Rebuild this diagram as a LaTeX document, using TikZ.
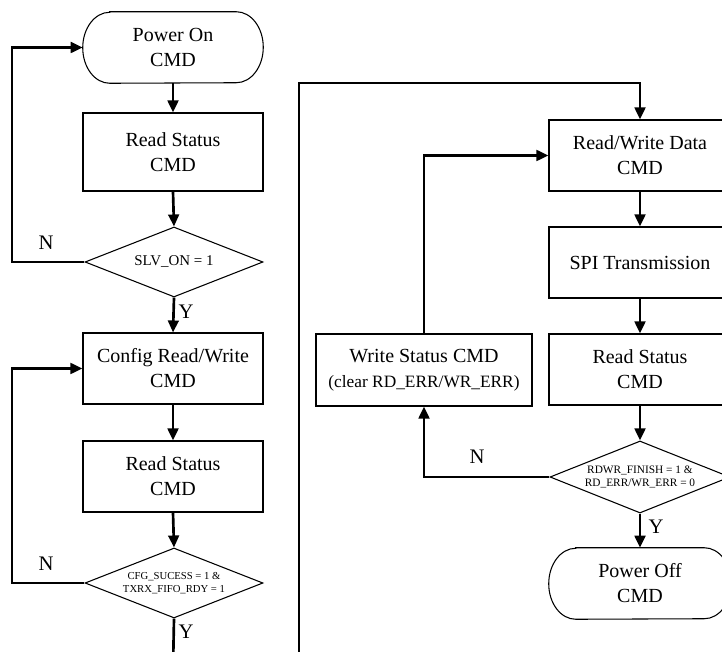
\documentclass[tikz,border=0pt]{standalone}
\usepackage{fontspec}
\setmainfont{Liberation Serif}
\usetikzlibrary{arrows.meta,shapes.geometric}
\begin{document}
\begin{tikzpicture}[x=0.75pt,y=-0.75pt,
  box/.style={draw,line width=0.8pt,minimum width=135pt,minimum height=53.25pt,inner sep=0pt,align=center,font=\fontsize{15}{18.75}\selectfont},
  term/.style={minimum width=135pt,minimum height=53.25pt,inner sep=0pt,align=center,font=\fontsize{15}{18.75}\selectfont},
  dec/.style={diamond,draw,line width=0.8pt,shape aspect=2.6,minimum width=133.5pt,minimum height=52.5pt,inner sep=0pt,align=center,font=\fontsize{8}{9.5}\selectfont},
  conn/.style={line width=2pt},
  flow/.style={conn,-{Triangle[length=9pt,width=8pt]}},
  lab/.style={font=\fontsize{15.5}{15.5}\selectfont,inner sep=0pt},
  termline/.style={line width=0.8pt}
]
\clip (0,0) rectangle (722,652);

% left column
\node[term] (pon) at (173,47.5) {Power On\\CMD};
\node[box,minimum height=58.5pt] (rs1) at (173,152) {Read Status\\CMD};
\node[dec,font=\fontsize{11.2}{12}\selectfont] (d1) at (174,262) {SLV\_ON = 1};
\node[box] (cfg) at (173,368.5) {Config Read/Write\\CMD};
\node[box] (rs2) at (173,476.5) {Read Status\\CMD};
\node[dec] (d2) at (174,583) {CFG\_SUCESS = 1 \&\\TXRX\_FIFO\_RDY = 1};

% right column
\node[box,minimum width=136.5pt] (rwd) at (640,155.5) {Read/Write Data\\CMD};
\node[box,minimum width=136.5pt] (spi) at (640,262.5) {SPI Transmission};
\node[box,minimum width=136.5pt] (rs3) at (640,369.5) {Read Status\\CMD};
\node[dec,minimum width=135pt,minimum height=54pt,font=\fontsize{8.5}{9.8}\selectfont] (d3) at (640,477) {RDWR\_FINISH = 1 \&\\RD\_ERR/WR\_ERR = 0};
\node[term,minimum width=136.5pt] (poff) at (640,583.5) {Power Off\\CMD};
\node[box,minimum width=162pt,minimum height=54pt] (ws) at (424,370) {Write Status CMD\\{\fontsize{13}{18.75}\selectfont(clear RD\_ERR/WR\_ERR)}};

% terminal outlines
\foreach \t in {pon,poff}{
  \draw[termline] ([xshift=20.25pt]\t.north west) -- ([xshift=-20.25pt]\t.north east)
    arc[start angle=90,end angle=-90,x radius=20.25pt,y radius=26.625pt]
    -- ([xshift=20.25pt]\t.south west)
    arc[start angle=270,end angle=90,x radius=20.25pt,y radius=26.625pt] -- cycle;
}

% helper coordinates
\coordinate (lx) at (12,0);
\coordinate (b1) at (173,670);
\coordinate (b2) at (299,670);
\coordinate (top) at (299,83);

% left connectors
\draw[flow] (pon.south) -- (rs1.north);
\draw[flow] (rs1.south) -- (d1.north);
\draw[flow] (d1.west) -- (d1.west -| lx) |- (pon.west);
\draw[flow] (d1.south) -- (cfg.north);
\draw[flow] (cfg.south) -- (rs2.north);
\draw[flow] (rs2.south) -- (d2.north);
\draw[flow] (d2.west) -- (d2.west -| lx) |- (cfg.west);
\draw[conn] (d2.south) -- (b1);

% right connectors
\draw[flow] (b2) -- (top) -| (rwd.north);
\draw[flow] (rwd.south) -- (spi.north);
\draw[flow] (spi.south) -- (rs3.north);
\draw[flow] (rs3.south) -- (d3.north);
\draw[flow] (d3.south) -- (poff.north);
\draw[flow] (d3.west) -| (ws.south);
\draw[flow] (ws.north) |- (rwd.west);

% labels
\node[lab] (n1) at (46,243) {N};
\node[lab] (n2) at (46,564) {N};
\node[lab] (n3) at (477,457) {N};
\node[lab] (y1) at (186,312) {Y};
\node[lab] (y2) at (186,632) {Y};
\node[lab] (y3) at (656,527) {Y};
\end{tikzpicture}
\end{document}
